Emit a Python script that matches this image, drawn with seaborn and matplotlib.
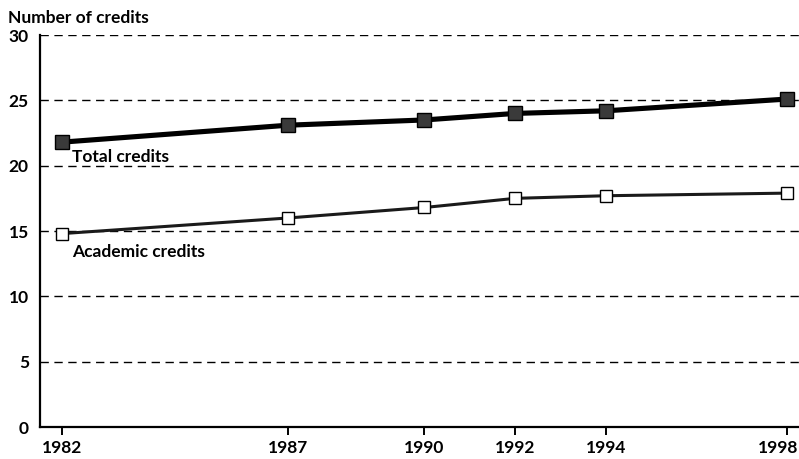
import matplotlib
matplotlib.use("Agg")
import matplotlib.pyplot as plt
import matplotlib.transforms as mtransforms
import seaborn as sns
import pandas as pd

years = [1982, 1987, 1990, 1992, 1994, 1998]
total_credits = [21.8, 23.1, 23.5, 24.0, 24.2, 25.1]
academic_credits = [14.8, 16.0, 16.8, 17.5, 17.7, 17.9]
y_ticks = [0, 5, 10, 15, 20, 25, 30]

sns.set_theme(style="white")
plt.rcParams["font.family"] = ["Lato", "DejaVu Sans"]
FW = "bold"

df_total = pd.DataFrame({"year": years, "credits": total_credits})
df_acad = pd.DataFrame({"year": years, "credits": academic_credits})

fig = plt.figure(figsize=(7.99, 4.59), dpi=100)
ax = fig.add_axes([0.05, 0.0697, 0.95, 0.854])

# dashed reference lines at each labelled level
for t in y_ticks[1:]:
    ax.axhline(t, color="black", lw=1.0, ls=(0, (6, 4)), zorder=1)

sns.lineplot(data=df_total, x="year", y="credits", ax=ax, color="black",
             lw=3.7, marker="s", markersize=9.5, markerfacecolor="#3a3a3a",
             markeredgecolor="black", markeredgewidth=1.0, zorder=3)
sns.lineplot(data=df_acad, x="year", y="credits", ax=ax, color="#1a1a1a",
             lw=2.2, marker="s", markersize=9, markerfacecolor="white",
             markeredgecolor="black", markeredgewidth=1.0, zorder=3)

ax.set_xlim(1981.52, 1998.26)
ax.set_ylim(0, 30)
ax.set_xticks(years)
ax.set_xticklabels([str(y) for y in years])
ax.set_yticks(y_ticks)
ax.set_xlabel("")
ax.set_ylabel("")

for side in ("top", "right"):
    ax.spines[side].set_visible(False)
for side in ("left", "bottom"):
    ax.spines[side].set_color("black")
    ax.spines[side].set_linewidth(1.6)

ax.tick_params(axis="x", direction="out", length=6, width=1.4, color="black",
               bottom=True, labelsize=12.5, pad=3)
ax.tick_params(axis="y", length=0, labelsize=12.5, pad=8)
for lab in ax.get_xticklabels() + ax.get_yticklabels():
    lab.set_fontweight(FW)
    lab.set_color("black")

# keep the last year label inside the canvas
last = ax.get_xticklabels()[-1]
last.set_transform(last.get_transform() +
                   mtransforms.ScaledTranslation(-9 / 100, 0, fig.dpi_scale_trans))

ax.text(1982.22, 20.7, "Total credits", fontsize=12.5, fontweight=FW,
        ha="left", va="center", color="black", zorder=4)
ax.text(1982.22, 13.4, "Academic credits", fontsize=12.5, fontweight=FW,
        ha="left", va="center", color="black", zorder=4)
fig.text(8 / 799, 1 - 18 / 459, "Number of credits", fontsize=12.5,
         fontweight=FW, ha="left", va="center", color="black")

fig.savefig("out.png", dpi=100)
